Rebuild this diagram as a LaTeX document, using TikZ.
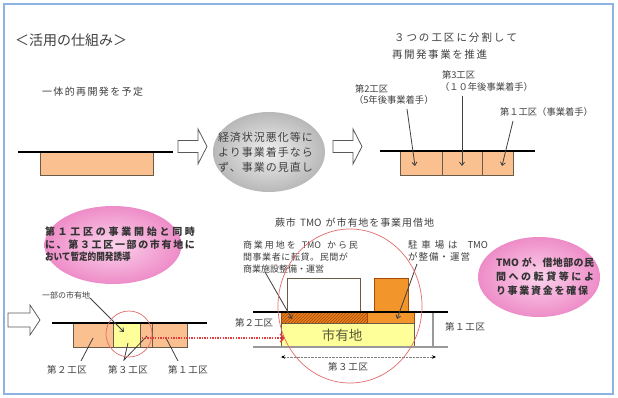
\documentclass[tikz,border=0pt]{standalone}
\usepackage{fontspec}
\usepackage{graphicx}
\setmainfont{Noto Sans CJK JP}
\usetikzlibrary{arrows.meta,shapes.geometric,patterns}
\newcommand\fsz[1]{\fontsize{#1}{#1}\selectfont}
\newcommand\tmo{\mbox{TMO}}
\makeatletter
\def\spr@first#1{#1\spr@loop}
\def\spr@loop#1{\ifx#1\@nil\else\hfil#1\expandafter\spr@loop\fi}
\newcommand\spread[2]{\makebox[#1][s]{\spr@first#2\@nil}}
\makeatother
\definecolor{frameblue}{HTML}{8DB3E2}
\definecolor{lorange}{HTML}{FAC090}
\definecolor{borange}{HTML}{F2952A}
\definecolor{dorange}{HTML}{E8801E}
\definecolor{hatchc}{HTML}{A84B08}
\definecolor{lyellow}{HTML}{FFFF99}
\definecolor{txt}{HTML}{404040}
\definecolor{txtb}{HTML}{333333}
\definecolor{leadc}{HTML}{404040}
\definecolor{boxline}{HTML}{6B5A48}
\definecolor{redc}{HTML}{E36C6C}
\definecolor{reddot}{HTML}{E8393A}
\definecolor{pinkin}{HTML}{FBD3EC}
\definecolor{pinkout}{HTML}{EE8CC8}
\definecolor{greyin}{HTML}{F0F0F0}
\definecolor{greyout}{HTML}{B8B8B8}
\definecolor{cityc}{HTML}{5A5A3A}
\begin{document}
\begin{tikzpicture}[x=1pt,y=-1pt,
  every node/.style={inner sep=0pt,outer sep=0pt,text=txt},
  ground/.style={line width=2.4pt,black},
  greyline/.style={line width=1.1pt,draw=gray!80},
  boxat/.style={rectangle,draw=boxline,line width=0.7pt,anchor=north west},
  obox/.style={boxat,fill=lorange},
  ybox/.style={boxat,fill=lyellow},
  leadarrow/.style={draw=leadc,line width=0.8pt,-{Straight Barb[length=3.2pt,width=5pt]}},
  leadline/.style={draw=leadc,line width=0.8pt},
  hollow/.style={draw=gray!70!black,fill=white,line width=0.8pt,line join=miter},
  lbl/.style={anchor=west,font=\fsz{9.5}},
  tlbl/.style={anchor=west,font=\fsz{9.3}},
  pinkell/.style={ellipse,shading=radial,inner color=pinkin,outer color=pinkout},
  redring/.style={draw=redc,line width=0.7pt}
]
\useasboundingbox (0,0) rectangle (618,398);
\fill[white] (0,0) rectangle (618,398);
\draw[frameblue,line width=2pt] (4,4) rectangle (613,394);

% title
\node[anchor=west,font=\fsz{14}] (title) at (15,40) {\spread{105pt}{＜活用の仕組み＞}};

% ---------- top left
\node[anchor=west,font=\fsz{10}] (plan) at (42,92) {\spread{101pt}{一体的再開発を予定}};
\node[obox,minimum width=113pt,minimum height=23pt] (whole) at (40,152) {};
\coordinate (g1a) at (18,152); \coordinate (g1b) at (173,152);
\draw[ground] (g1a) -- (g1b);

\draw[hollow] (178,140.5) -- (198,140.5) -- (198,129) -- (207,146.5) -- (198,164) -- (198,152.5) -- (178,152.5) -- cycle;

\node[ellipse,minimum width=112pt,minimum height=80pt,shading=radial,inner color=greyin,outer color=greyout] (gell) at (269,152) {};
\node[anchor=west,align=left,font=\fontsize{11}{15}\selectfont] (gtext) at (218,152)
  {\spread{95pt}{経済状況悪化等に}\\\spread{95pt}{より事業着手なら}\\\spread{95pt}{ず、事業の見直し}};

\draw[hollow] (333,140.5) -- (353,140.5) -- (353,129) -- (362,146.5) -- (353,164) -- (353,152.5) -- (333,152.5) -- cycle;

% ---------- top right
\node[anchor=west,font=\fsz{10.5}] (t3a) at (394,38) {\spread{123pt}{３つの工区に分割して}};
\node[anchor=west,font=\fsz{10.5}] (t3b) at (392,55) {\spread{95pt}{再開発事業を推進}};
\node[tlbl] (n3) at (442,75) {第3工区};
\node[tlbl] (n3b) at (440,87) {（１０年後事業着手）};
\node[tlbl] (n2) at (355,89) {第2工区};
\node[tlbl] (n2b) at (354,100) {（5年後事業着手）};
\node[tlbl] (n1) at (500,112) {第１工区（事業着手）};

\node[obox,minimum width=42pt,minimum height=24pt] (q2) at (400,151) {};
\node[obox,minimum width=40pt,minimum height=24pt] (q3) at (442,151) {};
\node[obox,minimum width=31pt,minimum height=24pt] (q1) at (482,151) {};
\coordinate (g2a) at (380,151); \coordinate (g2b) at (535,151);
\draw[ground] (g2a) -- (g2b);

\coordinate (s2) at (407,109); \coordinate (e2) at (415,166);
\coordinate (s3) at (462,96);  \coordinate (e3) at (462,166);
\coordinate (s1) at (513,121); \coordinate (e1) at (502,166);
\draw[leadarrow] (s2) -- (e2);
\draw[leadarrow] (s3) -- (e3);
\draw[leadarrow] (s1) -- (e1);

% ---------- bottom left
\node[pinkell,minimum width=137pt,minimum height=78pt] (pk1) at (113,245) {};
\node[anchor=west,align=left,font=\fontsize{10}{12.5}\selectfont\bfseries,text=txtb] (pk1t) at (45,244.5)
  {\spread{150pt}{第１工区の事業開始と同時}\\\spread{150pt}{に、第３工区一部の市有地に}\\\scalebox{0.86}[1]{おいて暫定的開発誘導}};

\draw[hollow] (8,313) -- (30,313) -- (30,305) -- (40,320) -- (30,335) -- (30,327) -- (8,327) -- cycle;

\node[anchor=west,font=\fsz{8}] (ichibu) at (42,295) {一部の市有地};

\node[obox,minimum width=40pt,minimum height=24pt] (b2) at (73,323) {};
\node[ybox,minimum width=27pt,minimum height=24pt] (b3y) at (113,323) {};
\node[obox,minimum width=12pt,minimum height=24pt] (b3o) at (140,323) {};
\node[obox,minimum width=35pt,minimum height=24pt] (b1) at (152,323) {};
\coordinate (g3a) at (52,323); \coordinate (g3b) at (207,323);
\draw[ground] (g3a) -- (g3b);

\coordinate (ia) at (90,298); \coordinate (ib) at (124,332);
\draw[leadarrow] (ia) -- (ib);

\node[lbl] (L2) at (47,370) {\spread{40pt}{第２工区}};
\node[lbl] (L3) at (108,370) {\spread{40pt}{第３工区}};
\node[lbl] (L1) at (168,370) {\spread{40pt}{第１工区}};
\coordinate (l2s) at (81,361); \coordinate (l2e) at (93,338);
\coordinate (l3s) at (124,360); \coordinate (l3e) at (128,343); \coordinate (l3f) at (147,336);
\coordinate (l1s) at (178,361); \coordinate (l1e) at (166,338);
\draw[leadline] (l2s) -- (l2e);
\draw[leadline] (l3e) -- (l3s) -- (l3f);
\draw[leadline] (l1s) -- (l1e);

\node[circle,redring,minimum size=46pt] (rc1) at (129,334) {};

% ---------- middle
\node[anchor=west,font=\fsz{10}] (mt) at (275,223) {\spread{159pt}{蕨市\ \tmo\ が市有地を事業用借地}};
\node[anchor=west,align=left,font=\fontsize{9}{12}\selectfont] (lnote) at (243,257)
  {\spread{115pt}{商業用地を\ \tmo\ から民}\\\spread{105pt}{間事業者に転貸。民間が}\\商業施設整備・運営};
\node[anchor=west,align=left,font=\fontsize{9.5}{12}\selectfont] (rnote) at (408,251)
  {\spread{80pt}{駐車場は\ \tmo}\\\spread{62pt}{が整備・運営}};

\node[boxat,fill=white,minimum width=73pt,minimum height=34pt] (shop) at (287,278) {};
\node[boxat,fill=borange,draw=hatchc,minimum width=34pt,minimum height=34pt] (park) at (374,278) {};
\node[boxat,fill=dorange,draw=hatchc,minimum width=86pt,minimum height=11pt,
      postaction={pattern=north east lines,pattern color=hatchc}] (hatch) at (281,312) {};
\node[boxat,fill=borange,draw=hatchc,minimum width=47pt,minimum height=11pt] (pstrip) at (367,312) {};
\node[ybox,minimum width=133pt,minimum height=24pt] (city) at (281,323) {};
\node[font=\fsz{13.5},text=cityc] (citytxt) at (342,335) {市有地};

\coordinate (g4a) at (253,312); \coordinate (g4b) at (448,312);
\draw[ground] (g4a) -- (g4b);
\coordinate (g5a) at (253,347); \coordinate (g5b) at (448,347);
\draw[greyline] (g5a) -- (g5b);
\coordinate (v1a) at (433,313); \coordinate (v1b) at (433,347);
\draw[greyline] (v1a) -- (v1b);

\node[lbl] (m2) at (235,323) {\spread{38pt}{第２工区}};
\node[lbl] (m1) at (445,327) {\spread{40pt}{第１工区}};
\node[lbl] (m3) at (328,367) {\spread{40pt}{第３工区}};

\coordinate (dL) at (281,357); \coordinate (dR) at (436,357);
\draw[draw=gray,line width=0.6pt,dash pattern=on 2.5pt off 1pt,
      {Stealth[length=4pt,width=3.5pt,black]}-{Stealth[length=4pt,width=3.5pt,black]}] (dL) -- (dR);

\coordinate (ls) at (265,272); \coordinate (le) at (292,319);
\coordinate (rs) at (417,264); \coordinate (re) at (397,319);
\draw[leadarrow] (ls) -- (le);
\draw[leadarrow] (rs) -- (re);

\coordinate (rd1) at (142,338); \coordinate (rd2) at (285,338);
\draw[draw=reddot,line width=1.3pt,dash pattern=on 1.3pt off 1.3pt,-{Straight Barb[length=4pt,width=8pt]}] (rd1) -- (rd2);

\node[ellipse,redring,minimum width=144pt,minimum height=154pt] (rc2) at (350,306) {};

% ---------- right
\node[pinkell,minimum width=122pt,minimum height=80pt] (pk2) at (539,277) {};
\node[anchor=west,align=left,font=\fontsize{10}{14}\selectfont\bfseries,text=txtb] (pk2t) at (496,277)
  {\spread{98pt}{\tmo\ が、借地部の民}\\\spread{98pt}{間への転貸等によ}\\\spread{92pt}{り事業資金を確保}};
\end{tikzpicture}
\end{document}
